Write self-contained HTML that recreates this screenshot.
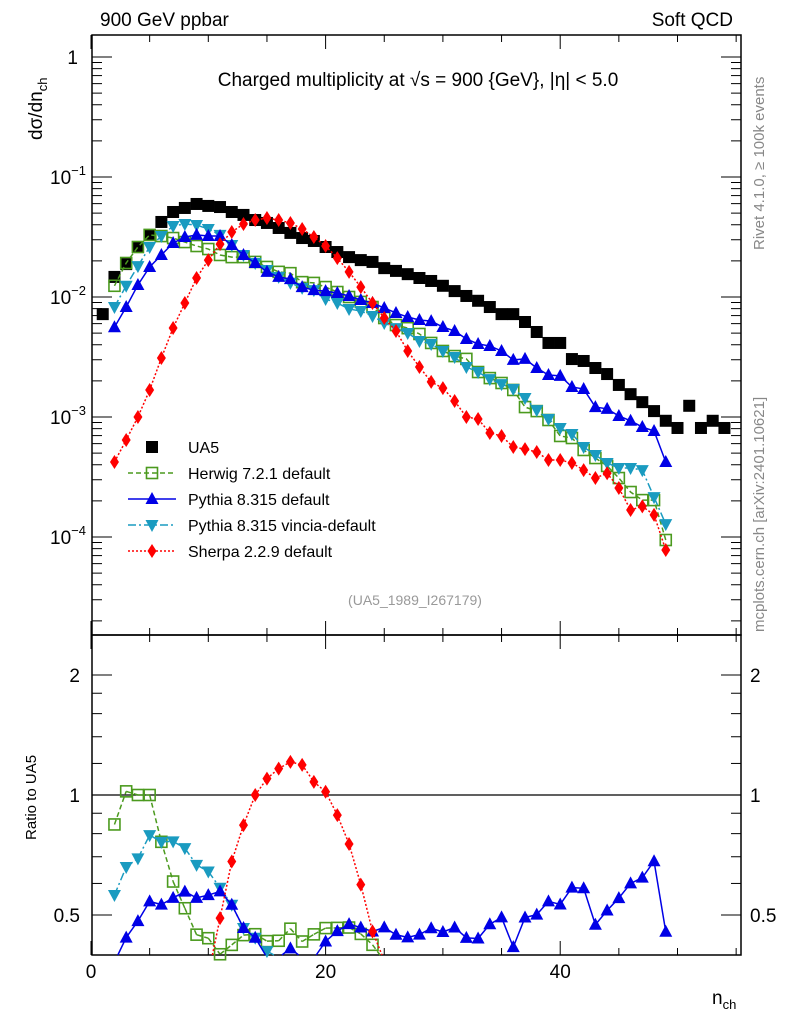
<!DOCTYPE html>
<html><head><meta charset="utf-8"><style>
html,body{margin:0;padding:0;background:#fff;width:786px;height:1024px;overflow:hidden;}
svg{display:block;}
svg text{font-family:"Liberation Sans",sans-serif;}
</style></head><body>
<svg id="chart" width="786" height="1024" xmlns="http://www.w3.org/2000/svg">
<defs>
<clipPath id="mainClip"><rect x="92" y="35" width="649" height="600"/></clipPath>
</defs>
<g id="frame"></g>
<g id="mainMarks" clip-path="url(#mainClip)"></g>
<g id="ratioMarks"></g>
<g id="texts"></g>
<text x="100" y="26" font-size="19">900 GeV ppbar</text>
<text x="733" y="26" font-size="19" text-anchor="end">Soft QCD</text>
<text x="418" y="86" font-size="19" text-anchor="middle">Charged multiplicity at √s = 900 {GeV}, |η| &lt; 5.0</text>
<text transform="translate(42,140) rotate(-90)" font-size="19">dσ/dn<tspan dy="5" font-size="13">ch</tspan></text>
<text transform="translate(36,840) rotate(-90)" font-size="15">Ratio to UA5</text>
<text x="712" y="1004" font-size="19">n<tspan dy="5" font-size="13">ch</tspan></text>
<text transform="translate(764,250) rotate(-90)" font-size="15" fill="#888">Rivet 4.1.0, ≥ 100k events</text>
<text transform="translate(764,632) rotate(-90)" font-size="15" fill="#888">mcplots.cern.ch [arXiv:2401.10621]</text>
<text x="415" y="605" font-size="14" fill="#999" text-anchor="middle">(UA5_1989_I267179)</text>
</svg>
<script>
const ua5N=[1,2,3,4,5,6,7,8,9,10,11,12,13,14,15,16,17,18,19,20,21,22,23,24,25,26,27,28,29,30,31,32,33,34,35,36,37,38,39,40,41,42,43,44,45,46,47,48,49,50,51,52,53,54];
const ua5Vals=[7.2e-3,1.47e-2,1.88e-2,2.61e-2,3.29e-2,4.22e-2,5.11e-2,5.52e-2,5.96e-2,5.74e-2,5.62e-2,5.11e-2,4.83e-2,4.38e-2,4.14e-2,3.76e-2,3.42e-2,3.1e-2,2.93e-2,2.61e-2,2.37e-2,2.15e-2,2.03e-2,1.96e-2,1.74e-2,1.65e-2,1.55e-2,1.44e-2,1.36e-2,1.24e-2,1.12e-2,1.02e-2,9.3e-3,8.25e-3,7.2e-3,7.2e-3,6.19e-3,5.11e-3,4.14e-3,4.14e-3,3.04e-3,2.93e-3,2.56e-3,2.28e-3,1.85e-3,1.55e-3,1.33e-3,1.12e-3,9.3e-4,8.1e-4,1.24e-3,8.1e-4,9.3e-4,8.1e-4];
const mcN=[2,3,4,5,6,7,8,9,10,11,12,13,14,15,16,17,18,19,20,21,22,23,24,25,26,27,28,29,30,31,32,33,34,35,36,37,38,39,40,41,42,43,44,45,46,47,48,49];
const herwigVals=[1.24e-2,1.92e-2,2.61e-2,3.29e-2,3.22e-2,3.1e-2,2.87e-2,2.66e-2,2.51e-2,2.24e-2,2.15e-2,2.15e-2,1.96e-2,1.78e-2,1.62e-2,1.58e-2,1.33e-2,1.31e-2,1.21e-2,1.1e-2,1.0e-2,9.1e-3,8.25e-3,6.68e-3,5.84e-3,5.5e-3,4.92e-3,4.14e-3,3.55e-3,3.22e-3,3.05e-3,2.37e-3,2.11e-3,1.92e-3,1.68e-3,1.21e-3,1.12e-3,9.44e-4,6.95e-4,6.68e-4,5.31e-4,4.55e-4,3.91e-4,3.1e-4,2.37e-4,2.03e-4,2.03e-4,9.44e-5];
const pythiaVals=[5.6e-3,8.25e-3,1.26e-2,1.78e-2,2.24e-2,2.82e-2,3.16e-2,3.29e-2,3.22e-2,3.22e-2,2.71e-2,2.24e-2,1.92e-2,1.62e-2,1.47e-2,1.41e-2,1.21e-2,1.14e-2,1.12e-2,1.08e-2,1.02e-2,9.44e-3,8.91e-3,8.1e-3,7.36e-3,6.81e-3,6.43e-3,6.3e-3,5.62e-3,5.21e-3,4.47e-3,4.06e-3,3.91e-3,3.55e-3,2.99e-3,3.05e-3,2.56e-3,2.24e-3,2.2e-3,1.78e-3,1.71e-3,1.21e-3,1.17e-3,1.02e-3,9.3e-4,8.25e-4,7.64e-4,4.22e-4];
const vinciaVals=[8.25e-3,1.24e-2,1.81e-2,2.61e-2,3.22e-2,3.91e-2,4.06e-2,3.98e-2,3.69e-2,3.29e-2,2.71e-2,2.24e-2,1.92e-2,1.68e-2,1.47e-2,1.31e-2,1.19e-2,1.14e-2,9.62e-3,8.91e-3,7.94e-3,7.64e-3,6.95e-3,6.07e-3,5.5e-3,5.01e-3,4.3e-3,4.06e-3,3.55e-3,3.16e-3,2.61e-3,2.37e-3,2.07e-3,1.88e-3,1.71e-3,1.44e-3,1.14e-3,9.62e-4,8.1e-4,7.22e-4,5.62e-4,4.82e-4,4.14e-4,3.76e-4,3.76e-4,3.61e-4,2.15e-4,1.28e-4];
const sherpaVals=[4.22e-4,6.43e-4,1.0e-3,1.68e-3,3.1e-3,5.52e-3,8.91e-3,1.44e-2,2.03e-2,2.76e-2,3.48e-2,4.06e-2,4.38e-2,4.55e-2,4.38e-2,4.14e-2,3.69e-2,3.16e-2,2.66e-2,2.11e-2,1.62e-2,1.21e-2,8.91e-3,6.68e-3,5.21e-3,3.55e-3,2.61e-3,1.96e-3,1.74e-3,1.36e-3,1.0e-3,9.62e-4,7.36e-4,6.95e-4,5.62e-4,5.4e-4,5.11e-4,4.38e-4,4.38e-4,4.14e-4,3.61e-4,3.1e-4,3.4e-4,2.56e-4,1.68e-4,1.8e-4,1.53e-4,7.8e-5];
const xTicks=[0,20,40];
const mainTickExps=[-4,-3,-2,-1,0];
const ratioTicks=[0.5,1,2];

const NS="http://www.w3.org/2000/svg";
const xs=n=>91+n*11.73;
const ym=v=>57-120*Math.log10(v);
const yr=r=>795-120*Math.log2(r);
const RT=635, RB=955;
function mk(tag,attrs,parent){const e=document.createElementNS(NS,tag);for(const k in attrs)e.setAttribute(k,attrs[k]);parent.appendChild(e);return e;}
const frame=document.getElementById('frame');
const mainG=document.getElementById('mainMarks');
const ratioG=document.getElementById('ratioMarks');
const tx=document.getElementById('texts');

let r1=mk('rect',{x:92,y:35,width:649,height:600,fill:'none',stroke:'#000','stroke-width':1.5},frame);


let r2=mk('rect',{x:92,y:635,width:649,height:320,fill:'none',stroke:'#000','stroke-width':1.5},frame);


let ref=mk('line',{x1:92,x2:741,y1:yr(1),y2:yr(1),stroke:'#000','stroke-width':1.2},frame);



for(let n=0;n<=55;n+=5){
  const major=n%20===0, x=xs(n), L=major?14:7;
  [[635,-1],[35,1],[955,-1],[635,1]].forEach(([y0,d])=>{
    const t=mk('line',{x1:x,x2:x,y1:y0,y2:y0+d*L,stroke:'#000','stroke-width':1},frame);
    
    
  });
}
xTicks.forEach(v=>{
  const t=mk('text',{x:xs(v),y:978,'font-size':19,'text-anchor':'middle'},tx);
  t.textContent=v;
  
  
});
for(let e=-5;e<=0;e++){
  for(let m=1;m<10;m++){
    const v=m*Math.pow(10,e), y=ym(v);
    if(y<35||y>635)continue;
    const L=m===1?20:10;
    [[92,1],[741,-1]].forEach(([x0,d])=>{
      const t=mk('line',{x1:x0,x2:x0+d*L,y1:y,y2:y,stroke:'#000','stroke-width':1},frame);
      
      
    });
  }
}
mainTickExps.forEach(e=>{
  const y=ym(Math.pow(10,e));
  const t=mk('text',{x:e===0?78:86,y:y+7,'font-size':19,'text-anchor':'end'},tx);
  if(e===0){t.textContent='1';}
  else{t.textContent='10';const s=mk('tspan',{dy:-9,'font-size':13},t);s.textContent=String(e).replace('-','\u2212');}
  
  
});
[0.5,0.6,0.7,0.8,0.9,1,1.2,1.4,1.6,1.8,2].forEach(r=>{
  const y=yr(r), major=ratioTicks.includes(r), L=major?20:10;
  [[92,1],[741,-1]].forEach(([x0,d])=>{
    const t=mk('line',{x1:x0,x2:x0+d*L,y1:y,y2:y,stroke:'#000','stroke-width':1},frame);
    
    
  });
});
ratioTicks.forEach(r=>{
  [[80,'end'],[750,'start']].forEach(([x,a])=>{
    const t=mk('text',{x:x,y:yr(r)+7,'font-size':19,'text-anchor':a},tx);
    t.textContent=r;
    
    
  });
});

function marker(g,type,x,y,color,name){
  let e;
  if(type==='sq') e=mk('rect',{x:x-6,y:y-6,width:12,height:12,fill:'#000'},g);
  else if(type==='osq') e=mk('rect',{x:x-5.5,y:y-5.5,width:11,height:11,fill:'none',stroke:color,'stroke-width':1.6},g);
  else if(type==='up') e=mk('polygon',{points:`${x},${y-7} ${x-6.5},${y+5} ${x+6.5},${y+5}`,fill:color},g);
  else if(type==='down') e=mk('polygon',{points:`${x},${y+7} ${x-6.5},${y-5} ${x+6.5},${y-5}`,fill:color},g);
  else e=mk('polygon',{points:`${x},${y-7} ${x+4.5},${y} ${x},${y+7} ${x-4.5},${y}`,fill:color},g);
  
  
}
function clipSeg(a,b){
  let [x1,y1]=a,[x2,y2]=b;
  if((y1>RB&&y2>RB)||(y1<RT&&y2<RT))return null;
  const f=(y)=>x1+(x2-x1)*(y-y1)/(y2-y1);
  if(y1>RB){x1=f(RB);y1=RB;} else if(y1<RT){x1=f(RT);y1=RT;}
  [x1,y1]=[x1,y1];
  const g=(y)=>a[0]+(b[0]-a[0])*(y-a[1])/(b[1]-a[1]);
  if(y2>RB){x2=g(RB);y2=RB;} else if(y2<RT){x2=g(RT);y2=RT;}
  return [x1,y1,x2,y2];
}
const series=[
 {vals:herwigVals,type:'osq',color:'#4b9a1e',dash:'5,3',name:'herwig'},
 {vals:vinciaVals,type:'down',color:'#1a9bc0',dash:'8,3,2,3',name:'vincia'},
 {vals:pythiaVals,type:'up',color:'#0000e6',dash:'',name:'pythia'},
 {vals:sherpaVals,type:'dia',color:'#ff0000',dash:'2,2',name:'sherpa'}
];
ua5N.forEach((n,i)=>marker(mainG,'sq',xs(n),ym(ua5Vals[i]),'#000','ua5-point'));
series.forEach(s=>{
  const pts=mcN.map((n,i)=>xs(n)+','+ym(s.vals[i])).join(' ');
  const l=mk('polyline',{points:pts,fill:'none',stroke:s.color,'stroke-width':1.5,'stroke-dasharray':s.dash},mainG);
  
  
  mcN.forEach((n,i)=>marker(mainG,s.type,xs(n),ym(s.vals[i]),s.color,s.name+'-point'));
  const rp=mcN.map((n,i)=>{const j=ua5N.indexOf(n);return [xs(n),yr(s.vals[i]/ua5Vals[j])];});
  for(let k=0;k<rp.length-1;k++){
    const c=clipSeg(rp[k],rp[k+1]);
    if(!c)continue;
    const sl=mk('line',{x1:c[0],y1:c[1],x2:c[2],y2:c[3],stroke:s.color,'stroke-width':1.5,'stroke-dasharray':s.dash},ratioG);
    
    
  }
  rp.forEach(p=>{ if(p[1]>=RT&&p[1]<=RB) marker(ratioG,s.type,p[0],p[1],s.color,s.name+'-ratio-point'); });
});

const legend=[['UA5','sq','#000',''],['Herwig 7.2.1 default','osq','#4b9a1e','5,3'],['Pythia 8.315 default','up','#0000e6',''],['Pythia 8.315 vincia-default','down','#1a9bc0','8,3,2,3'],['Sherpa 2.2.9 default','dia','#ff0000','2,2']];
legend.forEach((l,i)=>{
  const y=447+i*26;
  const g=mk('g',{},tx);
  
  
  if(i>0){mk('line',{x1:128,x2:176,y1:y,y2:y,stroke:l[2],'stroke-width':1.5,'stroke-dasharray':l[3]},g);}
  marker(g,l[1],152,y,l[2],'legend-marker');
  const t=mk('text',{x:188,y:y+6,'font-size':16},g);
  t.textContent=l[0];
});
</script>
</body></html>
